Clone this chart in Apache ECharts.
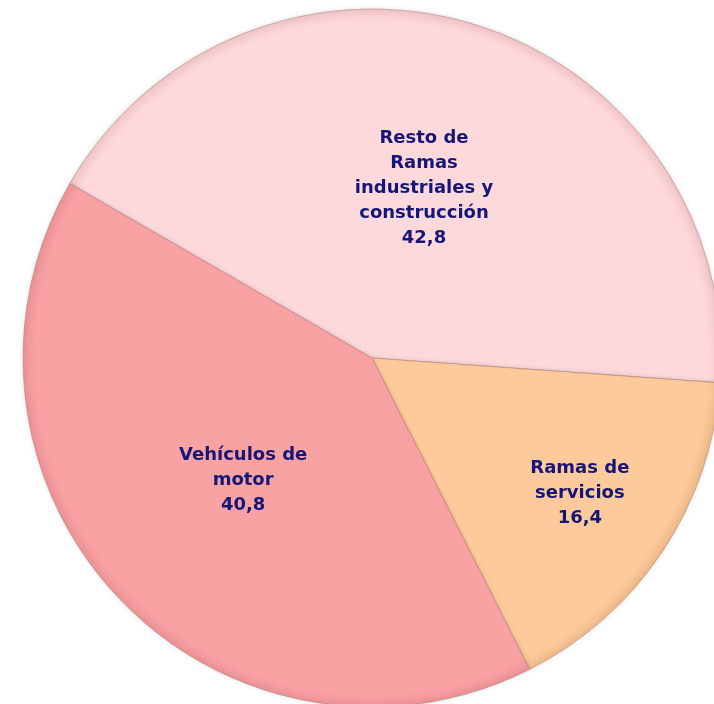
<!DOCTYPE html>
<html>
<head>
<meta charset="utf-8">
<script src="https://cdn.jsdelivr.net/npm/echarts@6/dist/echarts.min.js"></script>
<style>
  html, body { margin: 0; padding: 0; background: #fff; }
  #main { width: 714px; height: 704px; }
</style>
</head>
<body>
<div id="main"></div>
<script>
// datos del gráfico (orden en sentido horario desde arriba a la izquierda)
var names = ['Resto de\nRamas\nindustriales y\nconstrucción', 'Ramas de\nservicios', 'Vehículos de\nmotor'];
var values = [42.8, 16.4, 40.8];
var colors = ['#fdd9db', '#fdcb9b', '#f9a2a4'];
var rims = ['#f0c4c7', '#ecb888', '#ea9194'];

var cx = 372, cy = 358, R = 349;

var chart = echarts.init(document.getElementById('main'), null, { renderer: 'canvas' });

function fill(i) {
  // sombreado radial suave en el borde exterior
  return {
    type: 'radial', x: cx, y: cy, r: R, global: true,
    colorStops: [
      { offset: 0, color: colors[i] },
      { offset: 0.965, color: colors[i] },
      { offset: 1, color: rims[i] }
    ]
  };
}

function fmt(v) {
  return v.toFixed(1).replace('.', ',');
}

var data = names.map(function (n, i) {
  var item = { name: n, value: values[i], itemStyle: { color: fill(i) } };
  if (i === 1) {
    // etiqueta de servicios desplazada hacia fuera
    item.label = {
      padding: [0, 0, 0, 120],
      formatter: function (p) {
        return '\n\n\n' + p.name + '\n' + fmt(p.value);
      }
    };
  }
  return item;
});

var option = {
  backgroundColor: '#ffffff',
  animation: false,
  series: [
    {
      type: 'pie',
      center: [cx, cy],
      radius: [0, R],
      startAngle: 150,
      clockwise: true,
      avoidLabelOverlap: false,
      itemStyle: {
        borderColor: 'rgba(180,130,120,0.55)',
        borderWidth: 1,
        shadowBlur: 5,
        shadowColor: 'rgba(0,0,0,0.12)'
      },
      label: {
        show: true,
        position: 'inside',
        color: '#161678',
        fontFamily: 'DejaVu Sans',
        fontWeight: 'bold',
        fontSize: 18,
        lineHeight: 25,
        align: 'center',
        formatter: function (p) {
          return p.name + '\n' + fmt(p.value);
        }
      },
      labelLine: { show: false },
      data: data
    }
  ]
};
chart.setOption(option);
</script>
</body>
</html>
